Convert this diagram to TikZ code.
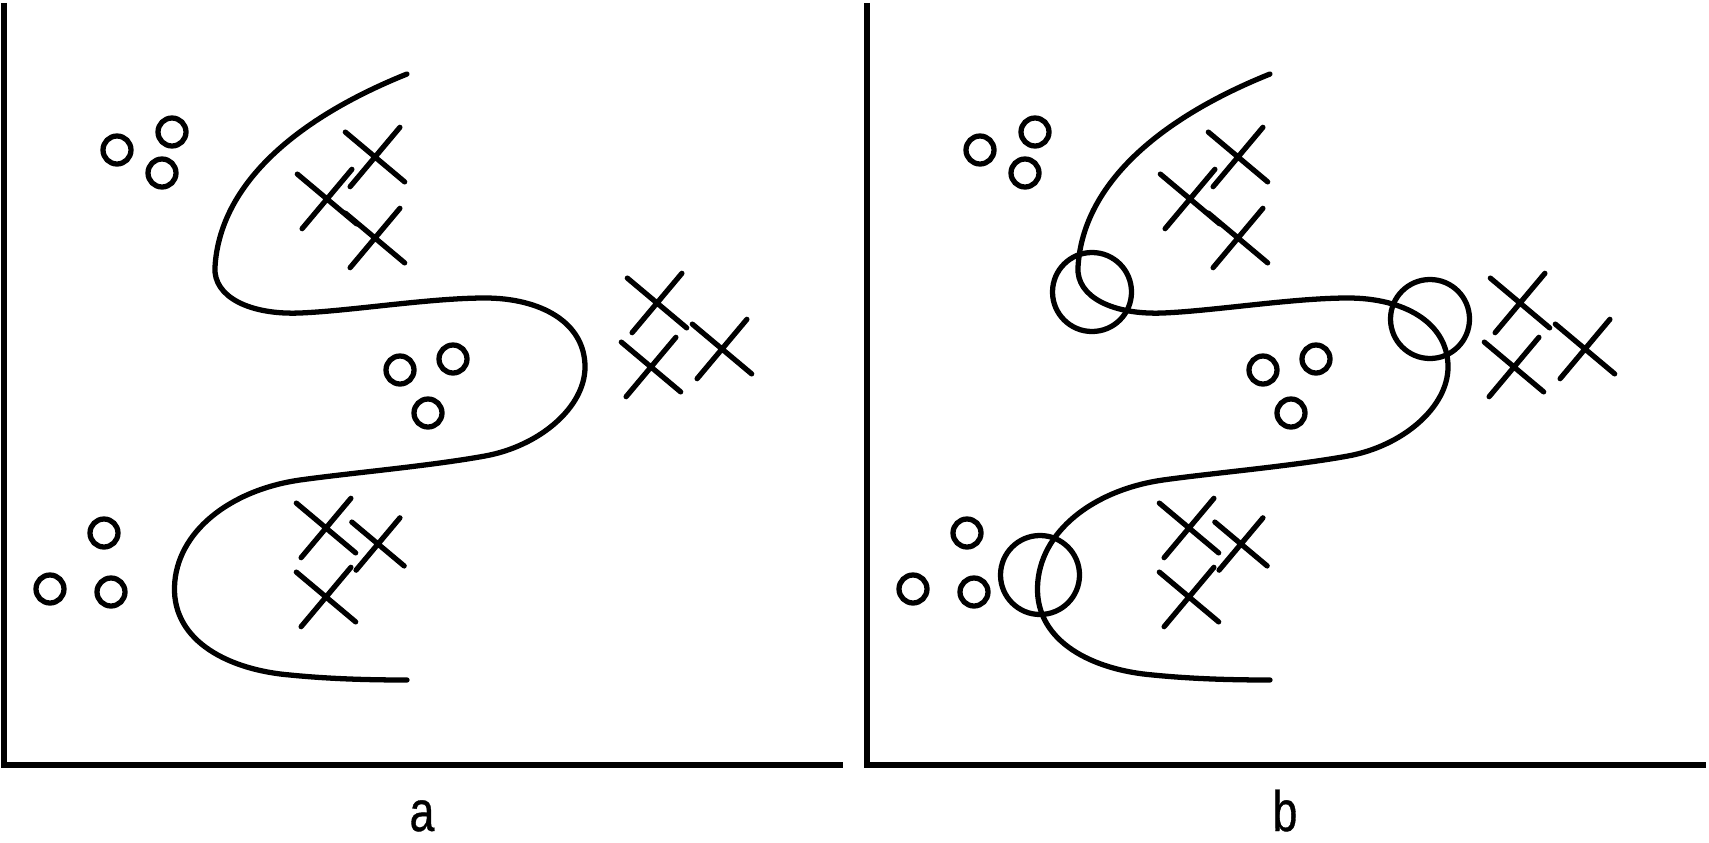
\documentclass[tikz,border=0pt]{standalone}
\usepackage{fontspec}
\newfontfamily\labelfont[FakeStretch=0.78,FakeBold=0.6]{Liberation Sans}
\usetikzlibrary{shapes.misc}

\begin{document}
\begin{tikzpicture}[
  axisline/.style={line width=1.7pt},
  boundary/.style={line width=1.5pt, line cap=round},
  dot/.style={draw, circle, line width=1.5pt, minimum size=0.28cm, inner sep=0pt},
  xmark/.style={draw, cross out, line width=1.5pt, line cap=round, minimum size=#1, inner sep=0pt, rotate=5},
  xmark/.default=0.495cm,
  ring/.style={draw, circle, line width=1.5pt, minimum size=0.79cm, inner sep=0pt},
  panellabel/.style={font=\labelfont\fontsize{16.3}{18}\selectfont, anchor=base}]

\useasboundingbox (0,0) rectangle (17.09,8.42);

\foreach \p/\dx in {a/0, b/8.63}{
\begin{scope}[xshift=\dx cm]
% axes
\coordinate (\p-top) at (0.04,8.39);
\coordinate (\p-org) at (0.04,0.77);
\coordinate (\p-end) at (8.43,0.77);
\draw[axisline] (\p-top) -- (\p-org) -- (\p-end);
\node[panellabel] (\p-lab) at (4.22,0.11) {\p};

% decision boundary
\draw[boundary] (4.07,7.68) .. controls (3.0,7.25) and (2.2,6.6) .. (2.15,5.75)
  .. controls (2.13,5.45) and (2.5,5.27) .. (3.0,5.29)
  .. controls (3.5,5.31) and (4.3,5.44) .. (4.85,5.44)
  .. controls (5.4,5.44) and (5.85,5.2) .. (5.85,4.75)
  .. controls (5.85,4.35) and (5.4,3.96) .. (4.85,3.86)
  .. controls (4.3,3.76) and (3.5,3.69) .. (3.0,3.62)
  .. controls (2.3,3.52) and (1.76,3.1) .. (1.745,2.55)
  .. controls (1.73,2.0) and (2.3,1.72) .. (2.9,1.67)
  .. controls (3.3,1.63) and (3.7,1.62) .. (4.07,1.62);

% class o
\foreach \x/\y [count=\i] in {1.17/6.92, 1.72/7.10, 1.62/6.69, 4.00/4.72, 4.53/4.83,
    4.28/4.29, 1.04/3.09, 0.50/2.53, 1.11/2.50}
  \node[dot] (\p-o\i) at (\x,\y) {};

% class x
\foreach \x/\y/\s [count=\i] in {3.75/6.85/0.495, 3.27/6.43/0.495, 3.75/6.04/0.495,
    6.57/5.39/0.495, 7.22/4.93/0.495, 6.51/4.75/0.495,
    3.26/3.14/0.495, 3.78/2.98/0.43, 3.26/2.45/0.495}
  \node[xmark=\s cm] (\p-x\i) at (\x,\y) {};
\end{scope}
}

% regions where the boundary is unsure
\begin{scope}[xshift=8.63cm]
\node[ring] (b-r1) at (2.29,5.50) {};
\node[ring] (b-r2) at (5.67,5.23) {};
\node[ring] (b-r3) at (1.77,2.67) {};
\end{scope}

\end{tikzpicture}
\end{document}
